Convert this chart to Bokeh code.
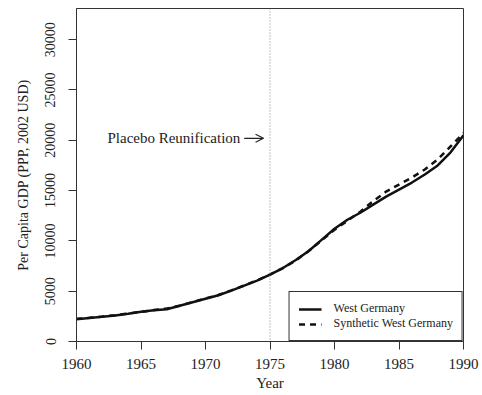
from bokeh.plotting import figure
from bokeh.models import Range1d, FixedTicker, Span, Label, Arrow, OpenHead, Legend, LegendItem
from bokeh.embed import file_html
from bokeh.resources import INLINE

years = list(range(1960, 1991))
west_germany = [2200, 2330, 2450, 2580, 2750, 2950, 3100, 3200, 3550, 3900,
                4250, 4600, 5050, 5550, 6050, 6650, 7300, 8100, 9000, 10100,
                11200, 12100, 12800, 13600, 14400, 15100, 15800, 16600, 17500, 18800,
                20500]
synthetic = [2250, 2350, 2480, 2620, 2780, 2950, 3120, 3280, 3550, 3920,
             4280, 4620, 5080, 5570, 6080, 6650, 7300, 8050, 9000, 10050,
             11100, 12000, 12900, 13950, 14900, 15600, 16300, 17100, 18100, 19400,
             20700]
x_ticks = [1960, 1965, 1970, 1975, 1980, 1985, 1990]
y_ticks = [0, 5000, 10000, 15000, 20000, 25000, 30000]
placebo_year = 1975
placebo_text = "Placebo Reunification"
label_x, label_y = 1962.4, 20200
arrow_x0, arrow_x1 = 1973.0, 1974.5

FONT = "Liberation Serif"

p = figure(width=482, height=395, output_backend="svg", toolbar_location=None,
           x_range=Range1d(1960, 1990), y_range=Range1d(0, 33100),
           min_border_left=76, min_border_right=19, min_border_top=8, min_border_bottom=54)
p.background_fill_color = "white"
p.border_fill_color = "white"
p.outline_line_color = "#333333"
p.outline_line_width = 1
p.xgrid.visible = False
p.ygrid.visible = False

for ax in (p.xaxis, p.yaxis):
    ax.axis_line_color = "#333333"
    ax.major_tick_line_color = "#333333"
    ax.major_tick_out = 8
    ax.major_tick_in = 0
    ax.minor_tick_line_color = None
    ax.major_label_text_font = FONT
    ax.major_label_text_color = "#222222"
    ax.axis_label_text_font = FONT
    ax.axis_label_text_font_style = "normal"
    ax.axis_label_text_color = "#222222"

p.xaxis.ticker = FixedTicker(ticks=x_ticks)
p.yaxis.ticker = FixedTicker(ticks=y_ticks)
p.xaxis.major_label_text_font_size = "15px"
p.yaxis.major_label_text_font_size = "14px"
p.yaxis.major_label_orientation = "vertical"
p.xaxis.major_label_standoff = 9
p.yaxis.major_label_standoff = 13
p.xaxis.axis_label = "Year"
p.yaxis.axis_label = "Per Capita GDP (PPP, 2002 USD)"
p.xaxis.axis_label_text_font_size = "15px"
p.yaxis.axis_label_text_font_size = "14px"
p.xaxis.axis_label_standoff = 3
p.yaxis.axis_label_standoff = 12

p.add_layout(Span(location=placebo_year, dimension="height", line_color="#888888",
                  line_dash="1 2", line_width=1))

r1 = p.line(years, west_germany, line_color="#111111", line_width=2.5)
r2 = p.line(years, synthetic, line_color="#111111", line_width=2.5, line_dash="6 5")

p.add_layout(Label(x=label_x, y=label_y, text=placebo_text, text_font=FONT,
                   text_font_size="15px", text_color="#222222",
                   text_baseline="middle", text_align="left"))
p.add_layout(Arrow(x_start=arrow_x0, y_start=label_y, x_end=arrow_x1, y_end=label_y,
                   line_color="#222222", line_width=1.2,
                   end=OpenHead(size=8, line_color="#222222", line_width=1.2)))

legend = Legend(items=[LegendItem(label="West Germany", renderers=[r1]),
                       LegendItem(label="Synthetic West Germany", renderers=[r2])],
                location="bottom_right", margin=0, padding=9, spacing=0,
                glyph_width=23, glyph_height=14, label_height=14, label_standoff=12,
                label_text_font=FONT, label_text_font_size="12px", label_text_color="#222222",
                border_line_color="#333333", border_line_alpha=1, border_line_width=1,
                background_fill_alpha=1)
p.add_layout(legend)

open("out.html", "w").write(file_html(p, INLINE))
